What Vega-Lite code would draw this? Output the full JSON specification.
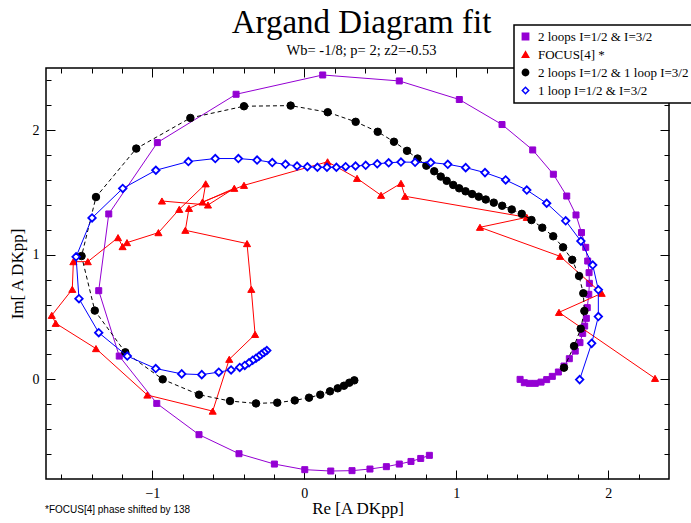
{
  "$schema": "https://vega.github.io/schema/vega-lite/v6.json",
  "width": 623,
  "height": 411,
  "autosize": "none",
  "padding": {"left": 46, "top": 68, "right": 22, "bottom": 44},
  "background": "white",
  "title": {
    "text": "Argand Diagram fit",
    "subtitle": "Wb= -1/8; p= 2;  z2=-0.53",
    "font": "Liberation Serif",
    "fontSize": 33,
    "fontWeight": "normal",
    "color": "black",
    "subtitleFont": "Liberation Serif",
    "subtitleFontSize": 14.5,
    "subtitleColor": "black",
    "subtitlePadding": 4,
    "anchor": "middle",
    "frame": "group",
    "offset": -33,
    "dx": 4
  },
  "data": {
    "values": [
      {"s": "2 loops I=1/2 & I=3/2", "i": 1, "x": 0.823, "y": -0.610},
      {"s": "2 loops I=1/2 & I=3/2", "i": 2, "x": 0.766, "y": -0.635},
      {"s": "2 loops I=1/2 & I=3/2", "i": 3, "x": 0.702, "y": -0.659},
      {"s": "2 loops I=1/2 & I=3/2", "i": 4, "x": 0.625, "y": -0.680},
      {"s": "2 loops I=1/2 & I=3/2", "i": 5, "x": 0.540, "y": -0.701},
      {"s": "2 loops I=1/2 & I=3/2", "i": 6, "x": 0.432, "y": -0.720},
      {"s": "2 loops I=1/2 & I=3/2", "i": 7, "x": 0.314, "y": -0.733},
      {"s": "2 loops I=1/2 & I=3/2", "i": 8, "x": 0.174, "y": -0.736},
      {"s": "2 loops I=1/2 & I=3/2", "i": 9, "x": 0.003, "y": -0.725},
      {"s": "2 loops I=1/2 & I=3/2", "i": 10, "x": -0.197, "y": -0.680},
      {"s": "2 loops I=1/2 & I=3/2", "i": 11, "x": -0.430, "y": -0.597},
      {"s": "2 loops I=1/2 & I=3/2", "i": 12, "x": -0.693, "y": -0.444},
      {"s": "2 loops I=1/2 & I=3/2", "i": 13, "x": -0.971, "y": -0.193},
      {"s": "2 loops I=1/2 & I=3/2", "i": 14, "x": -1.218, "y": 0.187},
      {"s": "2 loops I=1/2 & I=3/2", "i": 15, "x": -1.353, "y": 0.712},
      {"s": "2 loops I=1/2 & I=3/2", "i": 16, "x": -1.287, "y": 1.328},
      {"s": "2 loops I=1/2 & I=3/2", "i": 17, "x": -0.967, "y": 1.901},
      {"s": "2 loops I=1/2 & I=3/2", "i": 18, "x": -0.449, "y": 2.289},
      {"s": "2 loops I=1/2 & I=3/2", "i": 19, "x": 0.121, "y": 2.444},
      {"s": "2 loops I=1/2 & I=3/2", "i": 20, "x": 0.625, "y": 2.396},
      {"s": "2 loops I=1/2 & I=3/2", "i": 21, "x": 1.020, "y": 2.247},
      {"s": "2 loops I=1/2 & I=3/2", "i": 22, "x": 1.301, "y": 2.046},
      {"s": "2 loops I=1/2 & I=3/2", "i": 23, "x": 1.503, "y": 1.842},
      {"s": "2 loops I=1/2 & I=3/2", "i": 24, "x": 1.639, "y": 1.647},
      {"s": "2 loops I=1/2 & I=3/2", "i": 25, "x": 1.727, "y": 1.472},
      {"s": "2 loops I=1/2 & I=3/2", "i": 26, "x": 1.788, "y": 1.320},
      {"s": "2 loops I=1/2 & I=3/2", "i": 27, "x": 1.824, "y": 1.179},
      {"s": "2 loops I=1/2 & I=3/2", "i": 28, "x": 1.852, "y": 1.060},
      {"s": "2 loops I=1/2 & I=3/2", "i": 29, "x": 1.865, "y": 0.950},
      {"s": "2 loops I=1/2 & I=3/2", "i": 30, "x": 1.874, "y": 0.857},
      {"s": "2 loops I=1/2 & I=3/2", "i": 31, "x": 1.876, "y": 0.771},
      {"s": "2 loops I=1/2 & I=3/2", "i": 32, "x": 1.872, "y": 0.683},
      {"s": "2 loops I=1/2 & I=3/2", "i": 33, "x": 1.862, "y": 0.576},
      {"s": "2 loops I=1/2 & I=3/2", "i": 34, "x": 1.856, "y": 0.490},
      {"s": "2 loops I=1/2 & I=3/2", "i": 35, "x": 1.845, "y": 0.428},
      {"s": "2 loops I=1/2 & I=3/2", "i": 36, "x": 1.832, "y": 0.369},
      {"s": "2 loops I=1/2 & I=3/2", "i": 37, "x": 1.814, "y": 0.295},
      {"s": "2 loops I=1/2 & I=3/2", "i": 38, "x": 1.783, "y": 0.227},
      {"s": "2 loops I=1/2 & I=3/2", "i": 39, "x": 1.744, "y": 0.166},
      {"s": "2 loops I=1/2 & I=3/2", "i": 40, "x": 1.709, "y": 0.107},
      {"s": "2 loops I=1/2 & I=3/2", "i": 41, "x": 1.672, "y": 0.059},
      {"s": "2 loops I=1/2 & I=3/2", "i": 42, "x": 1.632, "y": 0.024},
      {"s": "2 loops I=1/2 & I=3/2", "i": 43, "x": 1.595, "y": -0.002},
      {"s": "2 loops I=1/2 & I=3/2", "i": 44, "x": 1.558, "y": -0.022},
      {"s": "2 loops I=1/2 & I=3/2", "i": 45, "x": 1.520, "y": -0.032},
      {"s": "2 loops I=1/2 & I=3/2", "i": 46, "x": 1.481, "y": -0.032},
      {"s": "2 loops I=1/2 & I=3/2", "i": 47, "x": 1.448, "y": -0.027},
      {"s": "2 loops I=1/2 & I=3/2", "i": 48, "x": 1.420, "y": 0.000},

      {"s": "FOCUS[4] *", "i": 1, "x": 2.308, "y": 0.008},
      {"s": "FOCUS[4] *", "i": 2, "x": 1.676, "y": 0.538},
      {"s": "FOCUS[4] *", "i": 3, "x": 1.957, "y": 0.691},
      {"s": "FOCUS[4] *", "i": 4, "x": 1.683, "y": 0.988},
      {"s": "FOCUS[4] *", "i": 5, "x": 1.156, "y": 1.221},
      {"s": "FOCUS[4] *", "i": 6, "x": 1.464, "y": 1.301},
      {"s": "FOCUS[4] *", "i": 7, "x": 0.663, "y": 1.470},
      {"s": "FOCUS[4] *", "i": 8, "x": 0.636, "y": 1.574},
      {"s": "FOCUS[4] *", "i": 9, "x": 0.505, "y": 1.478},
      {"s": "FOCUS[4] *", "i": 10, "x": 0.347, "y": 1.614},
      {"s": "FOCUS[4] *", "i": 11, "x": 0.153, "y": 1.747},
      {"s": "FOCUS[4] *", "i": 12, "x": -0.397, "y": 1.558},
      {"s": "FOCUS[4] *", "i": 13, "x": -0.670, "y": 1.424},
      {"s": "FOCUS[4] *", "i": 14, "x": -0.649, "y": 1.570},
      {"s": "FOCUS[4] *", "i": 15, "x": -0.823, "y": 1.365},
      {"s": "FOCUS[4] *", "i": 16, "x": -0.960, "y": 1.178},
      {"s": "FOCUS[4] *", "i": 17, "x": -1.167, "y": 1.098},
      {"s": "FOCUS[4] *", "i": 18, "x": -1.196, "y": 1.066},
      {"s": "FOCUS[4] *", "i": 19, "x": -1.226, "y": 1.138},
      {"s": "FOCUS[4] *", "i": 20, "x": -1.425, "y": 0.945},
      {"s": "FOCUS[4] *", "i": 21, "x": -1.520, "y": 0.945},
      {"s": "FOCUS[4] *", "i": 22, "x": -1.527, "y": 0.723},
      {"s": "FOCUS[4] *", "i": 23, "x": -1.662, "y": 0.514},
      {"s": "FOCUS[4] *", "i": 24, "x": -1.636, "y": 0.450},
      {"s": "FOCUS[4] *", "i": 25, "x": -1.371, "y": 0.247},
      {"s": "FOCUS[4] *", "i": 26, "x": -1.033, "y": -0.126},
      {"s": "FOCUS[4] *", "i": 27, "x": -0.603, "y": -0.255},
      {"s": "FOCUS[4] *", "i": 28, "x": -0.494, "y": 0.161},
      {"s": "FOCUS[4] *", "i": 29, "x": -0.324, "y": 0.361},
      {"s": "FOCUS[4] *", "i": 30, "x": -0.349, "y": 0.723},
      {"s": "FOCUS[4] *", "i": 31, "x": -0.377, "y": 1.090},
      {"s": "FOCUS[4] *", "i": 32, "x": -0.783, "y": 1.197},
      {"s": "FOCUS[4] *", "i": 33, "x": -0.759, "y": 1.373},
      {"s": "FOCUS[4] *", "i": 34, "x": -0.461, "y": 1.534},
      {"s": "FOCUS[4] *", "i": 35, "x": -0.634, "y": 1.400},
      {"s": "FOCUS[4] *", "i": 36, "x": -0.937, "y": 1.432},

      {"s": "2 loops I=1/2 & 1 loop I=3/2", "i": 1, "x": 0.329, "y": -0.008},
      {"s": "2 loops I=1/2 & 1 loop I=3/2", "i": 2, "x": 0.296, "y": -0.027},
      {"s": "2 loops I=1/2 & 1 loop I=3/2", "i": 3, "x": 0.261, "y": -0.051},
      {"s": "2 loops I=1/2 & 1 loop I=3/2", "i": 4, "x": 0.220, "y": -0.072},
      {"s": "2 loops I=1/2 & 1 loop I=3/2", "i": 5, "x": 0.169, "y": -0.096},
      {"s": "2 loops I=1/2 & 1 loop I=3/2", "i": 6, "x": 0.105, "y": -0.123},
      {"s": "2 loops I=1/2 & 1 loop I=3/2", "i": 7, "x": 0.031, "y": -0.147},
      {"s": "2 loops I=1/2 & 1 loop I=3/2", "i": 8, "x": -0.063, "y": -0.169},
      {"s": "2 loops I=1/2 & 1 loop I=3/2", "i": 9, "x": -0.178, "y": -0.187},
      {"s": "2 loops I=1/2 & 1 loop I=3/2", "i": 10, "x": -0.318, "y": -0.193},
      {"s": "2 loops I=1/2 & 1 loop I=3/2", "i": 11, "x": -0.489, "y": -0.174},
      {"s": "2 loops I=1/2 & 1 loop I=3/2", "i": 12, "x": -0.693, "y": -0.123},
      {"s": "2 loops I=1/2 & 1 loop I=3/2", "i": 13, "x": -0.932, "y": 0.000},
      {"s": "2 loops I=1/2 & 1 loop I=3/2", "i": 14, "x": -1.178, "y": 0.217},
      {"s": "2 loops I=1/2 & 1 loop I=3/2", "i": 15, "x": -1.379, "y": 0.552},
      {"s": "2 loops I=1/2 & 1 loop I=3/2", "i": 16, "x": -1.466, "y": 0.990},
      {"s": "2 loops I=1/2 & 1 loop I=3/2", "i": 17, "x": -1.371, "y": 1.464},
      {"s": "2 loops I=1/2 & 1 loop I=3/2", "i": 18, "x": -1.106, "y": 1.853},
      {"s": "2 loops I=1/2 & 1 loop I=3/2", "i": 19, "x": -0.750, "y": 2.099},
      {"s": "2 loops I=1/2 & 1 loop I=3/2", "i": 20, "x": -0.397, "y": 2.193},
      {"s": "2 loops I=1/2 & 1 loop I=3/2", "i": 21, "x": -0.090, "y": 2.198},
      {"s": "2 loops I=1/2 & 1 loop I=3/2", "i": 22, "x": 0.154, "y": 2.145},
      {"s": "2 loops I=1/2 & 1 loop I=3/2", "i": 23, "x": 0.338, "y": 2.068},
      {"s": "2 loops I=1/2 & 1 loop I=3/2", "i": 24, "x": 0.483, "y": 1.988},
      {"s": "2 loops I=1/2 & 1 loop I=3/2", "i": 25, "x": 0.590, "y": 1.908},
      {"s": "2 loops I=1/2 & 1 loop I=3/2", "i": 26, "x": 0.676, "y": 1.835},
      {"s": "2 loops I=1/2 & 1 loop I=3/2", "i": 27, "x": 0.745, "y": 1.773},
      {"s": "2 loops I=1/2 & 1 loop I=3/2", "i": 28, "x": 0.803, "y": 1.716},
      {"s": "2 loops I=1/2 & 1 loop I=3/2", "i": 29, "x": 0.855, "y": 1.671},
      {"s": "2 loops I=1/2 & 1 loop I=3/2", "i": 30, "x": 0.898, "y": 1.628},
      {"s": "2 loops I=1/2 & 1 loop I=3/2", "i": 31, "x": 0.937, "y": 1.594},
      {"s": "2 loops I=1/2 & 1 loop I=3/2", "i": 32, "x": 0.980, "y": 1.561},
      {"s": "2 loops I=1/2 & 1 loop I=3/2", "i": 33, "x": 1.019, "y": 1.534},
      {"s": "2 loops I=1/2 & 1 loop I=3/2", "i": 34, "x": 1.061, "y": 1.510},
      {"s": "2 loops I=1/2 & 1 loop I=3/2", "i": 35, "x": 1.104, "y": 1.488},
      {"s": "2 loops I=1/2 & 1 loop I=3/2", "i": 36, "x": 1.148, "y": 1.467},
      {"s": "2 loops I=1/2 & 1 loop I=3/2", "i": 37, "x": 1.194, "y": 1.444},
      {"s": "2 loops I=1/2 & 1 loop I=3/2", "i": 38, "x": 1.247, "y": 1.419},
      {"s": "2 loops I=1/2 & 1 loop I=3/2", "i": 39, "x": 1.302, "y": 1.394},
      {"s": "2 loops I=1/2 & 1 loop I=3/2", "i": 40, "x": 1.365, "y": 1.364},
      {"s": "2 loops I=1/2 & 1 loop I=3/2", "i": 41, "x": 1.431, "y": 1.329},
      {"s": "2 loops I=1/2 & 1 loop I=3/2", "i": 42, "x": 1.495, "y": 1.279},
      {"s": "2 loops I=1/2 & 1 loop I=3/2", "i": 43, "x": 1.566, "y": 1.218},
      {"s": "2 loops I=1/2 & 1 loop I=3/2", "i": 44, "x": 1.638, "y": 1.149},
      {"s": "2 loops I=1/2 & 1 loop I=3/2", "i": 45, "x": 1.703, "y": 1.060},
      {"s": "2 loops I=1/2 & 1 loop I=3/2", "i": 46, "x": 1.763, "y": 0.960},
      {"s": "2 loops I=1/2 & 1 loop I=3/2", "i": 47, "x": 1.808, "y": 0.830},
      {"s": "2 loops I=1/2 & 1 loop I=3/2", "i": 48, "x": 1.836, "y": 0.691},
      {"s": "2 loops I=1/2 & 1 loop I=3/2", "i": 49, "x": 1.843, "y": 0.549},
      {"s": "2 loops I=1/2 & 1 loop I=3/2", "i": 50, "x": 1.819, "y": 0.407},
      {"s": "2 loops I=1/2 & 1 loop I=3/2", "i": 51, "x": 1.775, "y": 0.267},
      {"s": "2 loops I=1/2 & 1 loop I=3/2", "i": 52, "x": 1.709, "y": 0.094},

      {"s": "1 loop I=1/2 & I=3/2", "i": 1, "x": -0.247, "y": 0.231},
      {"s": "1 loop I=1/2 & I=3/2", "i": 2, "x": -0.264, "y": 0.217},
      {"s": "1 loop I=1/2 & I=3/2", "i": 3, "x": -0.282, "y": 0.201},
      {"s": "1 loop I=1/2 & I=3/2", "i": 4, "x": -0.299, "y": 0.185},
      {"s": "1 loop I=1/2 & I=3/2", "i": 5, "x": -0.318, "y": 0.169},
      {"s": "1 loop I=1/2 & I=3/2", "i": 6, "x": -0.340, "y": 0.153},
      {"s": "1 loop I=1/2 & I=3/2", "i": 7, "x": -0.364, "y": 0.133},
      {"s": "1 loop I=1/2 & I=3/2", "i": 8, "x": -0.392, "y": 0.112},
      {"s": "1 loop I=1/2 & I=3/2", "i": 9, "x": -0.425, "y": 0.096},
      {"s": "1 loop I=1/2 & I=3/2", "i": 10, "x": -0.482, "y": 0.076},
      {"s": "1 loop I=1/2 & I=3/2", "i": 11, "x": -0.563, "y": 0.058},
      {"s": "1 loop I=1/2 & I=3/2", "i": 12, "x": -0.675, "y": 0.038},
      {"s": "1 loop I=1/2 & I=3/2", "i": 13, "x": -0.807, "y": 0.044},
      {"s": "1 loop I=1/2 & I=3/2", "i": 14, "x": -0.978, "y": 0.087},
      {"s": "1 loop I=1/2 & I=3/2", "i": 15, "x": -1.165, "y": 0.187},
      {"s": "1 loop I=1/2 & I=3/2", "i": 16, "x": -1.353, "y": 0.375},
      {"s": "1 loop I=1/2 & I=3/2", "i": 17, "x": -1.483, "y": 0.648},
      {"s": "1 loop I=1/2 & I=3/2", "i": 18, "x": -1.502, "y": 0.984},
      {"s": "1 loop I=1/2 & I=3/2", "i": 19, "x": -1.397, "y": 1.296},
      {"s": "1 loop I=1/2 & I=3/2", "i": 20, "x": -1.195, "y": 1.533},
      {"s": "1 loop I=1/2 & I=3/2", "i": 21, "x": -0.977, "y": 1.679},
      {"s": "1 loop I=1/2 & I=3/2", "i": 22, "x": -0.763, "y": 1.749},
      {"s": "1 loop I=1/2 & I=3/2", "i": 23, "x": -0.586, "y": 1.773},
      {"s": "1 loop I=1/2 & I=3/2", "i": 24, "x": -0.434, "y": 1.773},
      {"s": "1 loop I=1/2 & I=3/2", "i": 25, "x": -0.311, "y": 1.761},
      {"s": "1 loop I=1/2 & I=3/2", "i": 26, "x": -0.211, "y": 1.741},
      {"s": "1 loop I=1/2 & I=3/2", "i": 27, "x": -0.124, "y": 1.727},
      {"s": "1 loop I=1/2 & I=3/2", "i": 28, "x": -0.048, "y": 1.713},
      {"s": "1 loop I=1/2 & I=3/2", "i": 29, "x": 0.020, "y": 1.707},
      {"s": "1 loop I=1/2 & I=3/2", "i": 30, "x": 0.086, "y": 1.703},
      {"s": "1 loop I=1/2 & I=3/2", "i": 31, "x": 0.149, "y": 1.703},
      {"s": "1 loop I=1/2 & I=3/2", "i": 32, "x": 0.211, "y": 1.703},
      {"s": "1 loop I=1/2 & I=3/2", "i": 33, "x": 0.272, "y": 1.708},
      {"s": "1 loop I=1/2 & I=3/2", "i": 34, "x": 0.337, "y": 1.713},
      {"s": "1 loop I=1/2 & I=3/2", "i": 35, "x": 0.404, "y": 1.719},
      {"s": "1 loop I=1/2 & I=3/2", "i": 36, "x": 0.480, "y": 1.731},
      {"s": "1 loop I=1/2 & I=3/2", "i": 37, "x": 0.555, "y": 1.739},
      {"s": "1 loop I=1/2 & I=3/2", "i": 38, "x": 0.636, "y": 1.745},
      {"s": "1 loop I=1/2 & I=3/2", "i": 39, "x": 0.729, "y": 1.743},
      {"s": "1 loop I=1/2 & I=3/2", "i": 40, "x": 0.832, "y": 1.741},
      {"s": "1 loop I=1/2 & I=3/2", "i": 41, "x": 0.944, "y": 1.727},
      {"s": "1 loop I=1/2 & I=3/2", "i": 42, "x": 1.062, "y": 1.700},
      {"s": "1 loop I=1/2 & I=3/2", "i": 43, "x": 1.189, "y": 1.660},
      {"s": "1 loop I=1/2 & I=3/2", "i": 44, "x": 1.325, "y": 1.601},
      {"s": "1 loop I=1/2 & I=3/2", "i": 45, "x": 1.464, "y": 1.520},
      {"s": "1 loop I=1/2 & I=3/2", "i": 46, "x": 1.595, "y": 1.414},
      {"s": "1 loop I=1/2 & I=3/2", "i": 47, "x": 1.720, "y": 1.273},
      {"s": "1 loop I=1/2 & I=3/2", "i": 48, "x": 1.820, "y": 1.110},
      {"s": "1 loop I=1/2 & I=3/2", "i": 49, "x": 1.898, "y": 0.918},
      {"s": "1 loop I=1/2 & I=3/2", "i": 50, "x": 1.935, "y": 0.719},
      {"s": "1 loop I=1/2 & I=3/2", "i": 51, "x": 1.935, "y": 0.504},
      {"s": "1 loop I=1/2 & I=3/2", "i": 52, "x": 1.891, "y": 0.289},
      {"s": "1 loop I=1/2 & I=3/2", "i": 53, "x": 1.812, "y": -0.002}
    ]
  },
  "layer": [
    {
      "transform": [{"filter": "datum.s === '2 loops I=1/2 & I=3/2'"}],
      "mark": {"type": "line", "stroke": "#9400d3", "strokeWidth": 1},
      "encoding": {
        "x": {"field": "x", "type": "quantitative", "scale": {"domain": [-1.7, 2.4], "nice": false, "zero": false},
              "axis": {"orient": "bottom", "values": [-1, 0, 1, 2], "tickSize": -9, "labelPadding": 16, "title": "Re [A DKpp]", "titlePadding": 0}},
        "y": {"field": "y", "type": "quantitative", "scale": {"domain": [-0.8, 2.5], "nice": false, "zero": false},
              "axis": {"orient": "left", "values": [0, 1, 2], "tickSize": -9, "labelPadding": 16, "title": "Im[ A DKpp]", "titlePadding": 6}},
        "order": {"field": "i", "type": "quantitative"}
      }
    },
    {
      "transform": [{"filter": "datum.s === '2 loops I=1/2 & I=3/2'"}],
      "mark": {"type": "point", "filled": true, "opacity": 1, "size": 36, "strokeWidth": 1},
      "encoding": {
        "x": {"field": "x", "type": "quantitative", "scale": {"domain": [-1.7, 2.4], "nice": false, "zero": false},
              "axis": {"orient": "bottom", "values": [-1.6, -1.4, -1.2, -0.8, -0.6, -0.4, -0.2, 0.2, 0.4, 0.6, 0.8, 1.2, 1.4, 1.6, 1.8, 2.2], "tickSize": -5, "labels": false, "title": null}},
        "y": {"field": "y", "type": "quantitative", "scale": {"domain": [-0.8, 2.5], "nice": false, "zero": false},
              "axis": {"orient": "left", "values": [-0.6, -0.4, -0.2, 0.2, 0.4, 0.6, 0.8, 1.2, 1.4, 1.6, 1.8, 2.2, 2.4], "tickSize": -5, "labels": false, "title": null}},
        "shape": {"field": "s", "type": "nominal", "scale": {"domain": ["2 loops I=1/2 & I=3/2", "FOCUS[4] *", "2 loops I=1/2 & 1 loop I=3/2", "1 loop I=1/2 & I=3/2"], "range": ["square", "triangle-up", "circle", "diamond"]}, "legend": {"title": null}},
        "fill": {"field": "s", "type": "nominal", "scale": {"domain": ["2 loops I=1/2 & I=3/2", "FOCUS[4] *", "2 loops I=1/2 & 1 loop I=3/2", "1 loop I=1/2 & I=3/2"], "range": ["#9400d3", "#ff0000", "#000000", "#ffffff"]}, "legend": {"title": null}},
        "stroke": {"field": "s", "type": "nominal", "scale": {"domain": ["2 loops I=1/2 & I=3/2", "FOCUS[4] *", "2 loops I=1/2 & 1 loop I=3/2", "1 loop I=1/2 & I=3/2"], "range": ["#9400d3", "#ff0000", "#000000", "#0000ff"]}, "legend": {"title": null}}
      }
    },
    {
      "transform": [{"filter": "datum.s === 'FOCUS[4] *'"}],
      "mark": {"type": "line", "stroke": "#ff0000", "strokeWidth": 1},
      "encoding": {
        "x": {"field": "x", "type": "quantitative", "scale": {"domain": [-1.7, 2.4], "nice": false, "zero": false},
              "axis": {"orient": "top", "values": [-1, 0, 1, 2], "tickSize": -9, "labels": false, "title": null}},
        "y": {"field": "y", "type": "quantitative", "scale": {"domain": [-0.8, 2.5], "nice": false, "zero": false},
              "axis": {"orient": "right", "values": [0, 1, 2], "tickSize": -9, "labels": false, "title": null}},
        "order": {"field": "i", "type": "quantitative"}
      }
    },
    {
      "transform": [{"filter": "datum.s === 'FOCUS[4] *'"}],
      "mark": {"type": "point", "filled": true, "opacity": 1, "size": 50, "strokeWidth": 1},
      "encoding": {
        "x": {"field": "x", "type": "quantitative", "scale": {"domain": [-1.7, 2.4], "nice": false, "zero": false},
              "axis": {"orient": "top", "values": [-1.6, -1.4, -1.2, -0.8, -0.6, -0.4, -0.2, 0.2, 0.4, 0.6, 0.8, 1.2, 1.4, 1.6, 1.8, 2.2], "tickSize": -5, "labels": false, "title": null}},
        "y": {"field": "y", "type": "quantitative", "scale": {"domain": [-0.8, 2.5], "nice": false, "zero": false},
              "axis": {"orient": "right", "values": [-0.6, -0.4, -0.2, 0.2, 0.4, 0.6, 0.8, 1.2, 1.4, 1.6, 1.8, 2.2, 2.4], "tickSize": -5, "labels": false, "title": null}},
        "shape": {"field": "s", "type": "nominal", "scale": {"domain": ["2 loops I=1/2 & I=3/2", "FOCUS[4] *", "2 loops I=1/2 & 1 loop I=3/2", "1 loop I=1/2 & I=3/2"], "range": ["square", "triangle-up", "circle", "diamond"]}, "legend": {"title": null}},
        "fill": {"field": "s", "type": "nominal", "scale": {"domain": ["2 loops I=1/2 & I=3/2", "FOCUS[4] *", "2 loops I=1/2 & 1 loop I=3/2", "1 loop I=1/2 & I=3/2"], "range": ["#9400d3", "#ff0000", "#000000", "#ffffff"]}, "legend": {"title": null}},
        "stroke": {"field": "s", "type": "nominal", "scale": {"domain": ["2 loops I=1/2 & I=3/2", "FOCUS[4] *", "2 loops I=1/2 & 1 loop I=3/2", "1 loop I=1/2 & I=3/2"], "range": ["#9400d3", "#ff0000", "#000000", "#0000ff"]}, "legend": {"title": null}}
      }
    },
    {
      "transform": [{"filter": "datum.s === '2 loops I=1/2 & 1 loop I=3/2'"}],
      "mark": {"type": "line", "stroke": "#000000", "strokeWidth": 1, "strokeDash": [4, 3]},
      "encoding": {
        "x": {"field": "x", "type": "quantitative", "scale": {"domain": [-1.7, 2.4], "nice": false, "zero": false}, "axis": null},
        "y": {"field": "y", "type": "quantitative", "scale": {"domain": [-0.8, 2.5], "nice": false, "zero": false}, "axis": null},
        "order": {"field": "i", "type": "quantitative"}
      }
    },
    {
      "transform": [{"filter": "datum.s === '2 loops I=1/2 & 1 loop I=3/2'"}],
      "mark": {"type": "point", "filled": true, "opacity": 1, "size": 56, "strokeWidth": 1},
      "encoding": {
        "x": {"field": "x", "type": "quantitative", "scale": {"domain": [-1.7, 2.4], "nice": false, "zero": false}, "axis": null},
        "y": {"field": "y", "type": "quantitative", "scale": {"domain": [-0.8, 2.5], "nice": false, "zero": false}, "axis": null},
        "shape": {"field": "s", "type": "nominal", "scale": {"domain": ["2 loops I=1/2 & I=3/2", "FOCUS[4] *", "2 loops I=1/2 & 1 loop I=3/2", "1 loop I=1/2 & I=3/2"], "range": ["square", "triangle-up", "circle", "diamond"]}, "legend": {"title": null}},
        "fill": {"field": "s", "type": "nominal", "scale": {"domain": ["2 loops I=1/2 & I=3/2", "FOCUS[4] *", "2 loops I=1/2 & 1 loop I=3/2", "1 loop I=1/2 & I=3/2"], "range": ["#9400d3", "#ff0000", "#000000", "#ffffff"]}, "legend": {"title": null}},
        "stroke": {"field": "s", "type": "nominal", "scale": {"domain": ["2 loops I=1/2 & I=3/2", "FOCUS[4] *", "2 loops I=1/2 & 1 loop I=3/2", "1 loop I=1/2 & I=3/2"], "range": ["#9400d3", "#ff0000", "#000000", "#0000ff"]}, "legend": {"title": null}}
      }
    },
    {
      "transform": [{"filter": "datum.s === '1 loop I=1/2 & I=3/2'"}],
      "mark": {"type": "line", "stroke": "#0000ff", "strokeWidth": 1},
      "encoding": {
        "x": {"field": "x", "type": "quantitative", "scale": {"domain": [-1.7, 2.4], "nice": false, "zero": false}, "axis": null},
        "y": {"field": "y", "type": "quantitative", "scale": {"domain": [-0.8, 2.5], "nice": false, "zero": false}, "axis": null},
        "order": {"field": "i", "type": "quantitative"}
      }
    },
    {
      "transform": [{"filter": "datum.s === '1 loop I=1/2 & I=3/2'"}],
      "mark": {"type": "point", "filled": true, "opacity": 1, "size": 56, "strokeWidth": 1.8},
      "encoding": {
        "x": {"field": "x", "type": "quantitative", "scale": {"domain": [-1.7, 2.4], "nice": false, "zero": false}, "axis": null},
        "y": {"field": "y", "type": "quantitative", "scale": {"domain": [-0.8, 2.5], "nice": false, "zero": false}, "axis": null},
        "shape": {"field": "s", "type": "nominal", "scale": {"domain": ["2 loops I=1/2 & I=3/2", "FOCUS[4] *", "2 loops I=1/2 & 1 loop I=3/2", "1 loop I=1/2 & I=3/2"], "range": ["square", "triangle-up", "circle", "diamond"]}, "legend": {"title": null}},
        "fill": {"field": "s", "type": "nominal", "scale": {"domain": ["2 loops I=1/2 & I=3/2", "FOCUS[4] *", "2 loops I=1/2 & 1 loop I=3/2", "1 loop I=1/2 & I=3/2"], "range": ["#9400d3", "#ff0000", "#000000", "#ffffff"]}, "legend": {"title": null}},
        "stroke": {"field": "s", "type": "nominal", "scale": {"domain": ["2 loops I=1/2 & I=3/2", "FOCUS[4] *", "2 loops I=1/2 & 1 loop I=3/2", "1 loop I=1/2 & I=3/2"], "range": ["#9400d3", "#ff0000", "#000000", "#0000ff"]}, "legend": {"title": null}}
      }
    },
    {
      "data": {"values": [{"note": "*FOCUS[4] phase shifted by 138"}]},
      "mark": {"type": "text", "align": "left", "baseline": "alphabetic", "font": "Liberation Sans", "fontSize": 10, "color": "black", "dx": -1, "dy": 34},
      "encoding": {
        "x": {"datum": -1.7, "type": "quantitative", "axis": null},
        "y": {"datum": -0.8, "type": "quantitative", "axis": null},
        "text": {"field": "note", "type": "nominal"}
      }
    }
  ],
  "resolve": {"axis": {"x": "independent", "y": "independent"}},
  "config": {
    "view": {"stroke": "black", "strokeWidth": 1.5},
    "axis": {
      "domain": false, "grid": false,
      "tickColor": "black", "tickWidth": 1,
      "labelColor": "black", "labelFont": "Liberation Serif", "labelFontSize": 14,
      "titleColor": "black", "titleFont": "Liberation Serif", "titleFontSize": 17, "titleFontWeight": "normal"
    },
    "legend": {
      "orient": "none", "legendX": 468, "legendY": -43,
      "padding": 5, "rowPadding": 4,
      "fillColor": "white", "strokeColor": "black", "strokeWidth": 1.5,
      "labelFont": "Liberation Serif", "labelFontSize": 13, "labelColor": "black", "labelOffset": 6, "labelLimit": 400,
      "symbolSize": 40, "symbolStrokeWidth": 1.5, "symbolOpacity": 1
    }
  }
}
